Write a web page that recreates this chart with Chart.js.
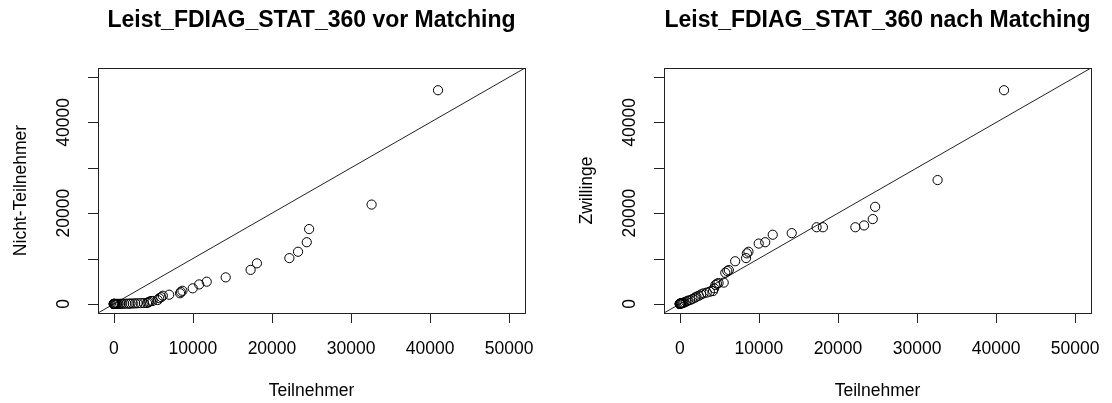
<!DOCTYPE html>
<html><head><meta charset="utf-8">
<script src="https://cdn.jsdelivr.net/npm/chart.js@4.4.0/dist/chart.umd.min.js"></script>
<style>
html,body{margin:0;padding:0;background:#fff;}
#wrap{position:relative;width:1112px;height:403px;overflow:hidden;}
.panel{position:absolute;top:0;width:556px;height:403px;}
</style></head><body>
<div id="wrap">
<div class="panel" style="left:0"><canvas id="c1" width="556" height="403"></canvas></div>
<div class="panel" style="left:556px"><canvas id="c2" width="556" height="403"></canvas></div>
</div>
<script>
// Quantiles (sorted)
const teilnehmer = [0,0,0,0,0,30,60,100,150,250,350,450,600,800,1000,1300,1600,1900,2100,2400,2700,3000,3400,3800,4200,4350,4500,4700,4900,5550,5750,6000,6200,7000,8380,8480,8680,9980,10800,11750,14150,17300,18100,22200,23300,24400,24700,32600,41000];
const nichtTeilnehmer = [0,0,0,0,0,0,0,0,0,0,0,0,10,20,30,40,50,60,80,100,120,150,180,200,200,350,490,640,640,860,1250,1500,1800,2030,2350,2650,2900,3440,4300,4900,5850,7500,8950,10100,11500,13600,16500,21900,47100];
const zwillinge = [0,0,0,0,0,50,80,100,130,150,200,250,350,500,700,860,1100,1370,1600,1810,2100,2330,2500,2700,2840,3440,4170,4450,4600,4700,6880,7250,7470,9400,10100,11150,11500,13300,13600,15250,15600,16900,16900,16900,17300,18700,21400,27300,47100];

const axisTicks = [0,10000,20000,30000,40000,50000];
const xTickLabels = ['0','10000','20000','30000','40000','50000'];
const yTickLabels = ['0','','20000','','40000',''];
const AX_MIN = -2000, AX_MAX = 52000;

const titles = ['Leist_FDIAG_STAT_360 vor Matching','Leist_FDIAG_STAT_360 nach Matching'];
const xLabel = 'Teilnehmer';
const yLabels = ['Nicht-Teilnehmer','Zwillinge'];

const FONT = '"Liberation Sans", Arial, Helvetica, sans-serif';

function makeChart(id, title, yLabel, yData, boxLeft, padRight){
  const pts = teilnehmer.map((x,i)=>({x:x, y:yData[i]}));
  const deco = {
    id:'deco',
    afterDraw(chart){
      const ctx = chart.ctx, a = chart.chartArea;
      const xs = chart.scales.x, ys = chart.scales.y;
      ctx.save();
      ctx.strokeStyle = '#222'; ctx.lineWidth = 1;
      ctx.strokeRect(Math.round(a.left)+0.5, Math.round(a.top)+0.5, Math.round(a.right-a.left), Math.round(a.bottom-a.top));
      // ticks
      ctx.beginPath();
      axisTicks.forEach(v=>{
        const px = Math.round(xs.getPixelForValue(v))+0.5;
        ctx.moveTo(px, a.bottom); ctx.lineTo(px, a.bottom+10);
        const py = Math.round(ys.getPixelForValue(v))+0.5;
        ctx.moveTo(a.left, py); ctx.lineTo(a.left-10, py);
      });
      ctx.stroke();
      ctx.fillStyle = '#000';
      ctx.font = '17.5px ' + FONT;
      ctx.textAlign = 'center'; ctx.textBaseline = 'middle';
      axisTicks.forEach((v,i)=>{
        ctx.fillText(xTickLabels[i], xs.getPixelForValue(v), 349);
      });
      axisTicks.forEach((v,i)=>{
        if(!yTickLabels[i]) return;
        ctx.save();
        ctx.translate(a.left-34, ys.getPixelForValue(v));
        ctx.rotate(-Math.PI/2);
        ctx.fillText(yTickLabels[i], 0, 0);
        ctx.restore();
      });
      const cx = (a.left+a.right)/2, cy = (a.top+a.bottom)/2;
      ctx.fillText(xLabel, cx, 391);
      ctx.save();
      ctx.translate(a.left-77, cy);
      ctx.rotate(-Math.PI/2);
      ctx.fillText(yLabel, 0, 0);
      ctx.restore();
      ctx.font = 'bold 23px ' + FONT;
      ctx.fillText(title, cx, 21);
      ctx.restore();
    }
  };
  return new Chart(document.getElementById(id), {
    type:'scatter',
    data:{datasets:[
      {data:pts, showLine:false, pointRadius:4.6, pointHoverRadius:4.6, pointBorderWidth:1,
       borderColor:'#000', backgroundColor:'rgba(0,0,0,0)', pointStyle:'circle'},
      {type:'line', data:[{x:AX_MIN,y:AX_MIN},{x:AX_MAX,y:AX_MAX}], borderColor:'#222', borderWidth:1,
       pointRadius:0, fill:false, tension:0}
    ]},
    options:{
      responsive:false, animation:false, devicePixelRatio:1,
      layout:{padding:{top:68, right:padRight, left:0, bottom:0}},
      plugins:{legend:{display:false}, tooltip:{enabled:false}, title:{display:false}},
      scales:{
        x:{type:'linear', min:AX_MIN, max:AX_MAX, grid:{display:false}, border:{display:false},
           ticks:{display:false}, afterFit(s){ s.height = 90; }},
        y:{type:'linear', min:AX_MIN, max:AX_MAX, grid:{display:false}, border:{display:false},
           ticks:{display:false}, afterFit(s){ s.width = boxLeft; }}
      }
    },
    plugins:[deco]
  });
}
makeChart('c1', titles[0], yLabels[0], nichtTeilnehmer, 98, 31);
makeChart('c2', titles[1], yLabels[1], zwillinge, 108, 21);
</script>
</body></html>
